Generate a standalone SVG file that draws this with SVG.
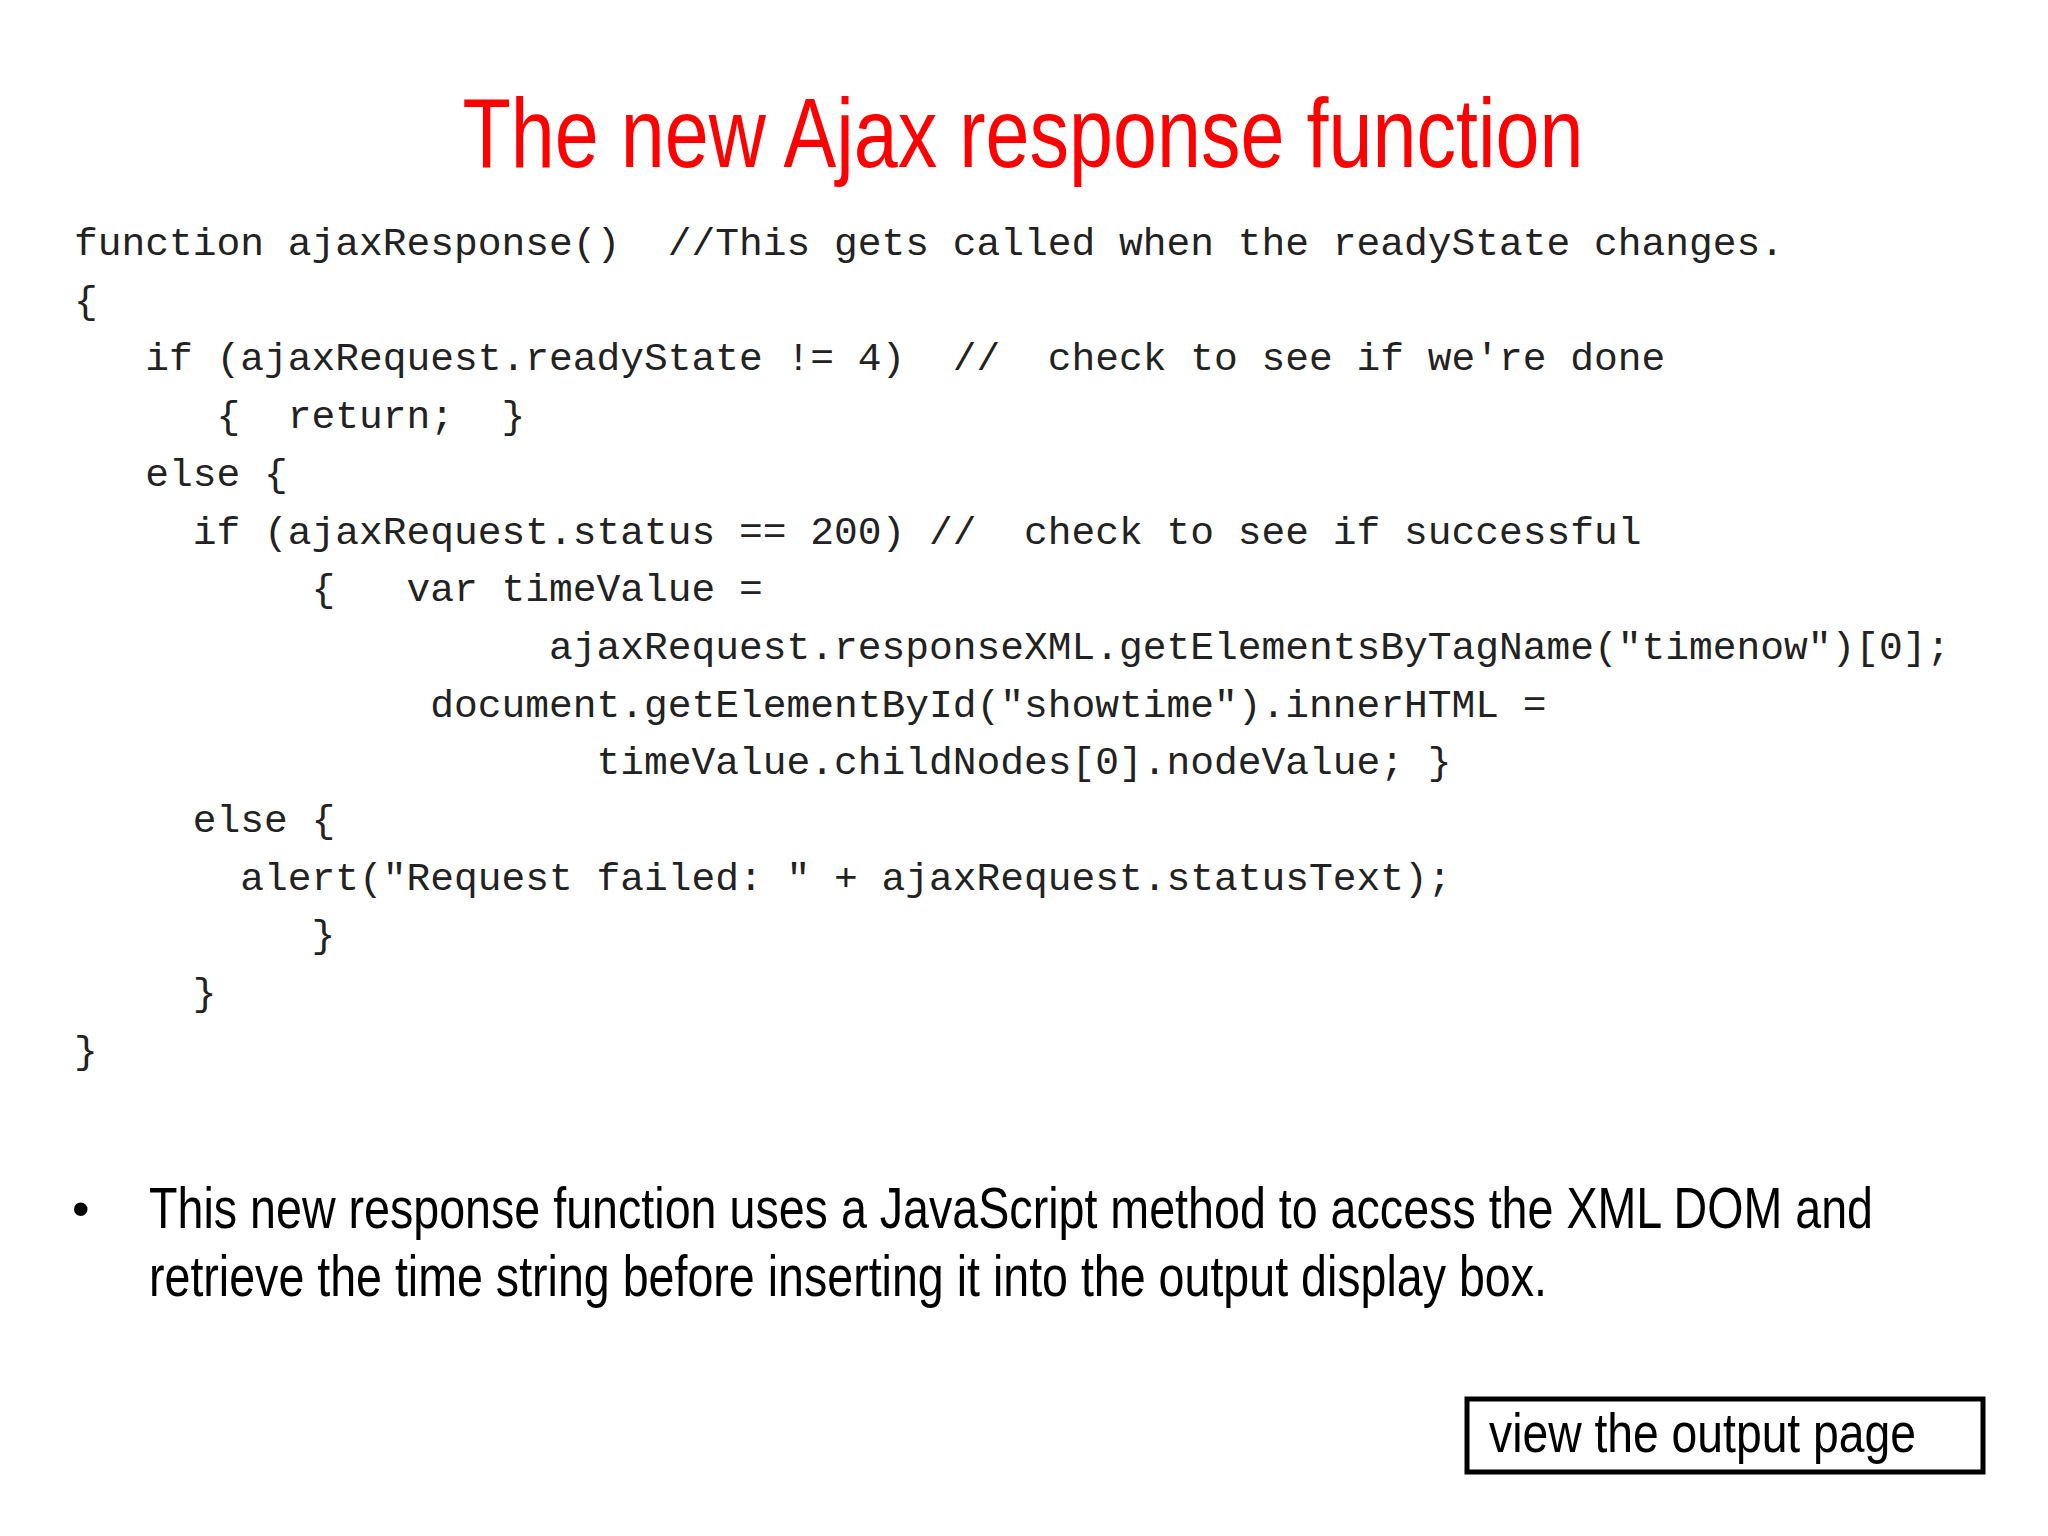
<svg xmlns="http://www.w3.org/2000/svg" width="2048" height="1536" viewBox="0 0 2048 1536">
<style>
.code{font-family:"Liberation Mono","Courier New",monospace;font-size:39.6px;fill:#222;white-space:pre}
.sans{font-family:"Liberation Sans",Arial,sans-serif;fill:#000}
</style>
<rect width="2048" height="1536" fill="#fff"/>
<g id="title"><text class="sans" x="1023" y="167" font-size="98" fill="#f00" style="fill:#f00" text-anchor="middle" textLength="1121" lengthAdjust="spacingAndGlyphs">The new Ajax response function</text></g>
<g id="code" xml:space="preserve">
<text class="code" x="74" y="255">function ajaxResponse()  //This gets called when the readyState changes.</text>
<text class="code" x="74" y="312.7">{</text>
<text class="code" x="74" y="370.4">   if (ajaxRequest.readyState != 4)  //  check to see if we're done</text>
<text class="code" x="74" y="428.1">      {  return;  }</text>
<text class="code" x="74" y="485.8">   else {</text>
<text class="code" x="74" y="543.5">     if (ajaxRequest.status == 200) //  check to see if successful</text>
<text class="code" x="74" y="601.2">          {   var timeValue =</text>
<text class="code" x="74" y="658.9">                    ajaxRequest.responseXML.getElementsByTagName("timenow")[0];</text>
<text class="code" x="74" y="716.6">               document.getElementById("showtime").innerHTML =</text>
<text class="code" x="74" y="774.3">                      timeValue.childNodes[0].nodeValue; }</text>
<text class="code" x="74" y="832">     else {</text>
<text class="code" x="74" y="889.7">       alert("Request failed: " + ajaxRequest.statusText);</text>
<text class="code" x="74" y="947.4">          }</text>
<text class="code" x="74" y="1005.1">     }</text>
<text class="code" x="74" y="1062.8">}</text>
</g>
<g id="bullet">
<text class="sans" x="72" y="1226" font-size="50">•</text>
<text class="sans" x="149" y="1228" font-size="58" textLength="1724" lengthAdjust="spacingAndGlyphs">This new response function uses a JavaScript method to access the XML DOM and</text>
<text class="sans" x="149" y="1296" font-size="58" textLength="1398" lengthAdjust="spacingAndGlyphs">retrieve the time string before inserting it into the output display box.</text>
</g>
<g id="button">
<rect x="1467" y="1399" width="516" height="73" fill="#fff" stroke="#000" stroke-width="5"/>
<text class="sans" x="1489" y="1452" font-size="56" textLength="427" lengthAdjust="spacingAndGlyphs">view the output page</text>
</g>
</svg>
